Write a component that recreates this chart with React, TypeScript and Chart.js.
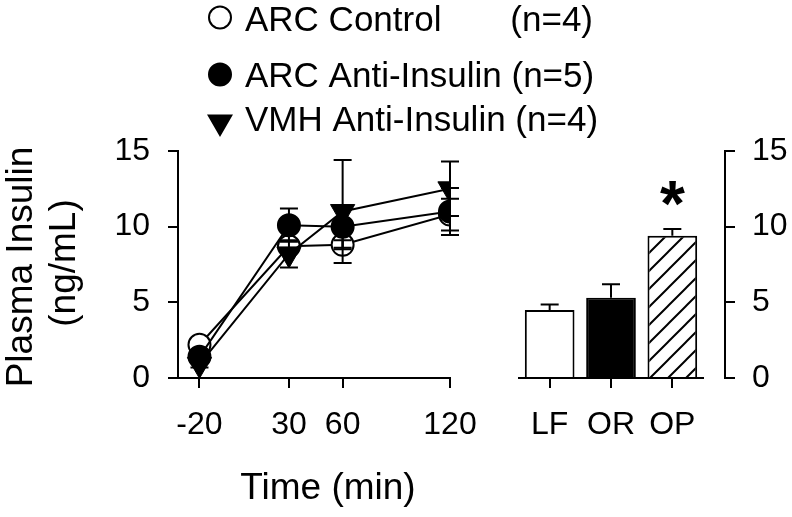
import React, { useEffect, useRef } from 'react';
import { Chart, registerables } from 'chart.js';

Chart.register(...registerables);

const FONT = "'Liberation Sans', Arial, Helvetica, sans-serif";

// ---- Time-course data (left panel) ----
const timePoints = [-20, 30, 60, 120];
const seriesNames = ['ARC Control', 'ARC Anti-Insulin', 'VMH Anti-Insulin'];
const seriesN = ['(n=4)', '(n=5)', '(n=4)'];
const arcControl = [2.2, 8.7, 8.8, 10.8];
const arcControlErr = [0, 0, 0.3, 1.05];
const arcAnti = [1.4, 10.1, 10.0, 11.0];
const arcAntiErr = [0.3, 1.1, 1.4, 1.55];
const vmhAnti = [0.9, 8.2, 11.0, 12.5];
const vmhAntiErr = [0.2, 0.9, 3.4, 1.8];
const yTicks = [0, 5, 10, 15];

// ---- Group data (right panel) ----
const groups = ['LF', 'OR', 'OP'];
const groupMeans = [4.5, 5.3, 9.4];
const groupErr = [0.35, 0.9, 0.45];
const groupSig = ['', '', '*'];

const yTitle = ['Plasma Insulin', '(ng/mL)'];
const xTitle = 'Time (min)';

const BLACK = '#000';

function drawMarker(ctx: CanvasRenderingContext2D, kind: number, x: number, y: number) {
  ctx.save();
  ctx.lineWidth = 2;
  ctx.strokeStyle = BLACK;
  ctx.beginPath();
  if (kind === 2) {
    const r = 13;
    ctx.moveTo(x, y + r);
    ctx.lineTo(x - r * Math.sin(Math.PI / 3), y - r / 2);
    ctx.lineTo(x + r * Math.sin(Math.PI / 3), y - r / 2);
    ctx.closePath();
    ctx.fillStyle = BLACK;
  } else {
    ctx.arc(x, y, 11, 0, Math.PI * 2);
    ctx.fillStyle = kind === 0 ? '#fff' : BLACK;
  }
  ctx.fill();
  ctx.stroke();
  ctx.restore();
}

const seriesErrs = [arcControlErr, arcAntiErr, vmhAntiErr];

const lineExtrasPlugin = {
  id: 'lineExtras',
  afterDatasetsDraw(chart: any) {
    const { ctx } = chart;
    const x = chart.scales.x;
    const y = chart.scales.y;
    ctx.save();
    ctx.strokeStyle = BLACK;
    ctx.lineWidth = 2;
    chart.data.datasets.forEach((ds: any, di: number) => {
      const errs = seriesErrs[di];
      ds.data.forEach((p: any, i: number) => {
        const e = errs[i];
        if (!e) return;
        const px = x.getPixelForValue(p.x);
        const top = y.getPixelForValue(p.y + e);
        const bot = y.getPixelForValue(p.y - e);
        ctx.beginPath();
        ctx.moveTo(px, top);
        ctx.lineTo(px, bot);
        ctx.moveTo(px - 9, top);
        ctx.lineTo(px + 9, top);
        ctx.moveTo(px - 9, bot);
        ctx.lineTo(px + 9, bot);
        ctx.stroke();
      });
    });
    ctx.restore();
  },
  afterDraw(chart: any) {
    const { ctx } = chart;
    ctx.save();
    // legend
    const rows = [
      { cy: 17.5, base: 31 },
      { cy: 74.5, base: 87 },
      { cy: 122, base: 131 },
    ];
    ctx.fillStyle = BLACK;
    ctx.font = `35px ${FONT}`;
    ctx.textBaseline = 'alphabetic';
    seriesNames.forEach((name, i) => {
      drawMarker(ctx, i, 220, rows[i].cy);
      ctx.fillStyle = BLACK;
      ctx.textAlign = 'left';
      if (i === 0) {
        ctx.fillText(name, 245, rows[i].base);
        ctx.textAlign = 'right';
        ctx.fillText(seriesN[i], 593, rows[i].base);
      } else {
        ctx.fillText(`${name} ${seriesN[i]}`, 245, rows[i].base);
      }
    });
    // axis titles
    ctx.textAlign = 'center';
    ctx.textBaseline = 'middle';
    ctx.font = `37px ${FONT}`;
    ctx.fillText(xTitle, 328, 489);
    ctx.save();
    ctx.translate(22, 267);
    ctx.rotate(-Math.PI / 2);
    ctx.fillText(yTitle[0], 0, 0);
    ctx.restore();
    ctx.save();
    ctx.translate(65, 263);
    ctx.rotate(-Math.PI / 2);
    ctx.fillText(yTitle[1], 0, 0);
    ctx.restore();
    ctx.restore();
  },
};

const barExtrasPlugin = {
  id: 'barExtras',
  afterDatasetsDraw(chart: any) {
    const { ctx } = chart;
    const x = chart.scales.x;
    const y = chart.scales.y;
    ctx.save();
    ctx.strokeStyle = BLACK;
    ctx.lineWidth = 2;
    groupMeans.forEach((m, i) => {
      const px = x.getPixelForValue(i);
      const top = y.getPixelForValue(m + groupErr[i]);
      const base = y.getPixelForValue(m);
      ctx.beginPath();
      ctx.moveTo(px, base);
      ctx.lineTo(px, top);
      ctx.moveTo(px - 9, top);
      ctx.lineTo(px + 9, top);
      ctx.stroke();
      if (groupSig[i]) {
        ctx.fillStyle = BLACK;
        ctx.font = `bold 64px ${FONT}`;
        ctx.textAlign = 'center';
        ctx.textBaseline = 'alphabetic';
        const mt = ctx.measureText(groupSig[i]);
        const asc = mt.actualBoundingBoxAscent;
        const desc = mt.actualBoundingBoxDescent;
        const cy = top - 35;
        ctx.fillText(groupSig[i], px, cy + (asc - desc) / 2);
      }
    });
    ctx.restore();
  },
};

function makeHatch(target: HTMLCanvasElement) {
  const c = document.createElement('canvas');
  c.width = 18;
  c.height = 18;
  const g = c.getContext('2d')!;
  g.fillStyle = '#fff';
  g.fillRect(0, 0, 18, 18);
  g.strokeStyle = BLACK;
  g.lineWidth = 2;
  g.beginPath();
  g.moveTo(0, 18);
  g.lineTo(18, 0);
  g.moveTo(-3, 3);
  g.lineTo(3, -3);
  g.moveTo(15, 21);
  g.lineTo(21, 15);
  g.stroke();
  return target.getContext('2d')!.createPattern(c, 'repeat');
}

const axisGrid = {
  display: true,
  drawOnChartArea: false,
  drawTicks: true,
  tickLength: 10,
  color: BLACK,
  lineWidth: 2,
};
const axisBorder = { display: true, color: BLACK, width: 2 };
const tickFont = { size: 32, family: FONT };

export default function App() {
  const lineRef = useRef<HTMLCanvasElement>(null);
  const barRef = useRef<HTMLCanvasElement>(null);

  useEffect(() => {
    Chart.defaults.font.family = FONT;
    Chart.defaults.color = BLACK;

    const mk = (vals: number[]) => timePoints.map((t, i) => ({ x: t, y: vals[i] }));

    const lineChart = new Chart(lineRef.current!, {
      type: 'line',
      data: {
        datasets: [
          {
            label: seriesNames[0],
            data: mk(arcControl),
            borderColor: BLACK,
            borderWidth: 2,
            pointStyle: 'circle',
            pointRadius: 11,
            pointBackgroundColor: '#fff',
            pointBorderColor: BLACK,
            pointBorderWidth: 2,
            order: 3,
          },
          {
            label: seriesNames[1],
            data: mk(arcAnti),
            borderColor: BLACK,
            borderWidth: 2,
            pointStyle: 'circle',
            pointRadius: 11,
            pointBackgroundColor: BLACK,
            pointBorderColor: BLACK,
            pointBorderWidth: 2,
            order: 2,
          },
          {
            label: seriesNames[2],
            data: mk(vmhAnti),
            borderColor: BLACK,
            borderWidth: 2,
            pointStyle: 'triangle',
            pointRadius: 14,
            pointRotation: 180,
            pointBackgroundColor: BLACK,
            pointBorderColor: BLACK,
            pointBorderWidth: 1,
            order: 1,
          },
        ] as any,
      },
      options: {
        animation: false,
        responsive: true,
        maintainAspectRatio: false,
        layout: { padding: { left: 0, top: 151, right: 342, bottom: 0 } },
        plugins: { legend: { display: false }, tooltip: { enabled: false } },
        scales: {
          x: {
            type: 'linear',
            min: -32,
            max: 120,
            afterBuildTicks: (s: any) => {
              s.ticks = timePoints.map((v) => ({ value: v }));
            },
            grid: axisGrid,
            border: axisBorder,
            ticks: { font: tickFont, padding: 18, color: BLACK, maxRotation: 0, autoSkip: false },
            afterFit: (s: any) => {
              s.height = 139;
            },
          },
          y: {
            type: 'linear',
            min: 0,
            max: 15,
            afterBuildTicks: (s: any) => {
              s.ticks = yTicks.map((v) => ({ value: v }));
            },
            grid: axisGrid,
            border: axisBorder,
            ticks: { font: tickFont, padding: 18, color: BLACK },
            afterFit: (s: any) => {
              s.width = 178;
            },
          },
        } as any,
      },
      plugins: [lineExtrasPlugin],
    });

    const hatch = makeHatch(barRef.current!);

    const barChart = new Chart(barRef.current!, {
      type: 'bar',
      data: {
        labels: groups,
        datasets: [
          {
            data: groupMeans,
            backgroundColor: ['#fff', BLACK, hatch as any],
            borderColor: BLACK,
            borderWidth: 2,
            barPercentage: 0.81,
            categoryPercentage: 1,
            yAxisID: 'y',
          },
        ],
      },
      options: {
        animation: false,
        responsive: true,
        maintainAspectRatio: false,
        layout: { padding: { left: 49, top: 151, right: 0, bottom: 0 } },
        plugins: { legend: { display: false }, tooltip: { enabled: false } },
        scales: {
          x: {
            type: 'category',
            offset: true,
            grid: { ...axisGrid, offset: false },
            border: axisBorder,
            ticks: { font: tickFont, padding: 18, color: BLACK, maxRotation: 0 },
            afterFit: (s: any) => {
              s.height = 139;
            },
          },
          yPad: {
            type: 'linear',
            position: 'right',
            weight: 0,
            display: true,
            grid: { display: false },
            border: { display: false },
            ticks: { display: false },
            afterFit: (s: any) => {
              s.width = 22;
            },
          },
          y: {
            type: 'linear',
            position: 'right',
            weight: 1,
            min: 0,
            max: 15,
            afterBuildTicks: (s: any) => {
              s.ticks = yTicks.map((v) => ({ value: v }));
            },
            grid: axisGrid,
            border: axisBorder,
            ticks: { font: tickFont, padding: 17, color: BLACK },
            afterFit: (s: any) => {
              s.width = 67;
            },
          },
        } as any,
      },
      plugins: [barExtrasPlugin],
    });

    return () => {
      lineChart.destroy();
      barChart.destroy();
    };
  }, []);

  return (
    <div style={{ position: 'absolute', left: 0, top: 0, width: 792, height: 517, background: '#fff' }}>
      <div style={{ position: 'absolute', left: 0, top: 0, width: 792, height: 517 }}>
        <canvas ref={lineRef} />
      </div>
      <div style={{ position: 'absolute', left: 470, top: 0, width: 322, height: 517 }}>
        <canvas ref={barRef} />
      </div>
    </div>
  );
}
